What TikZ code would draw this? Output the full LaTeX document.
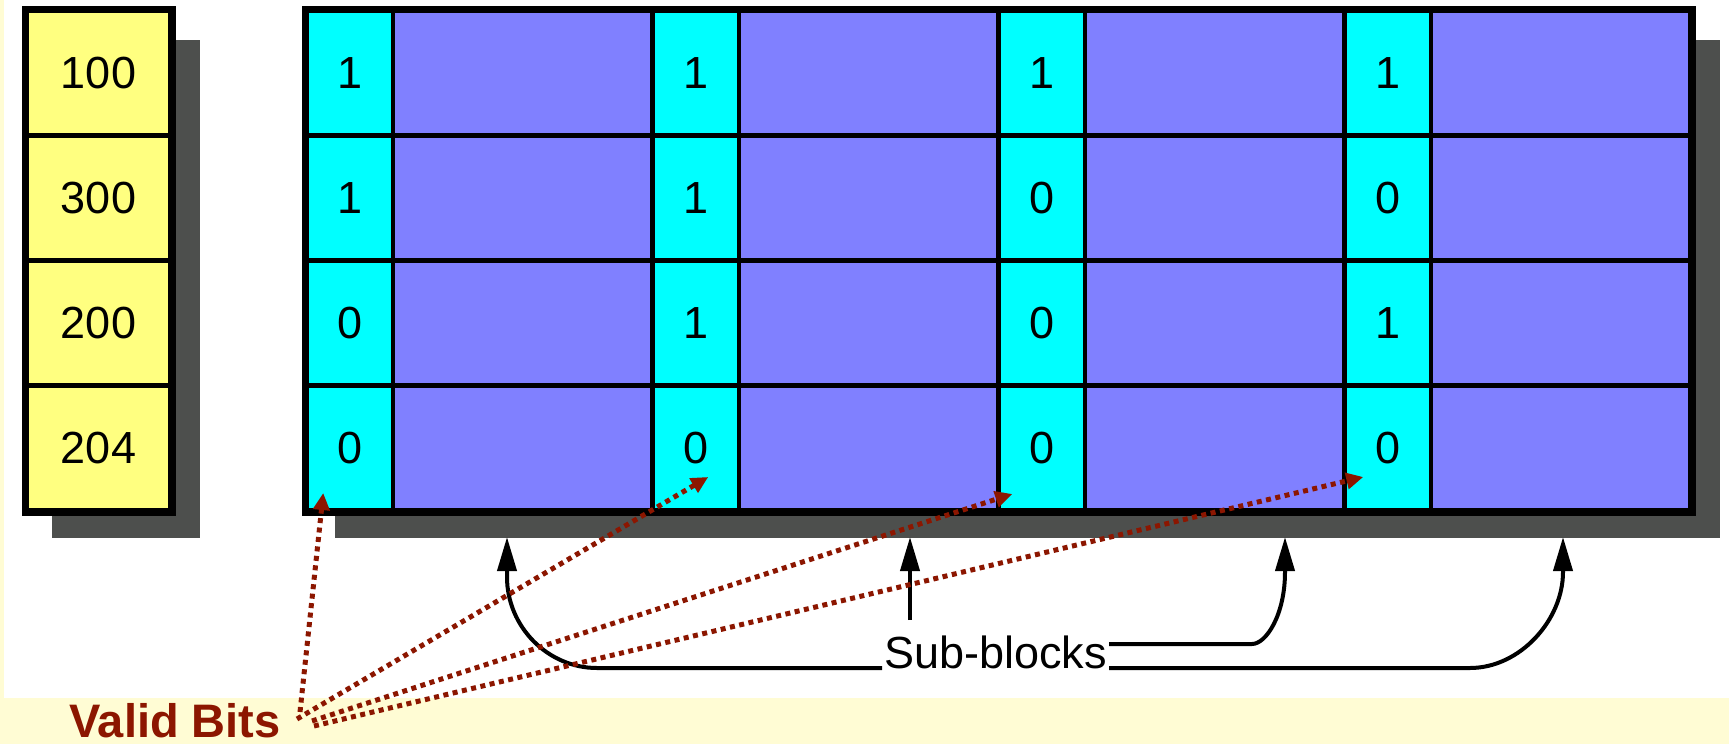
\documentclass[tikz,border=0pt]{standalone}
\usepackage{fontspec}
\setmainfont{Liberation Sans}
\usetikzlibrary{arrows.meta,calc}
\definecolor{cellyellow}{RGB}{255,255,128}
\definecolor{cellcyan}{RGB}{0,255,255}
\definecolor{cellblue}{RGB}{128,128,255}
\definecolor{shadowgray}{RGB}{77,79,77}
\definecolor{bgyellow}{RGB}{255,252,212}
\definecolor{darkred}{RGB}{140,22,0}
\begin{document}
\begin{tikzpicture}[x=1pt,y=-1pt,
  cell/.style={draw=black, line width=4.5pt, minimum height=125pt, inner sep=0pt, font=\fontsize{45}{50}\selectfont},
  addr/.style={cell, fill=cellyellow, minimum width=144pt},
  vbit/.style={cell, fill=cellcyan, minimum width=86.5pt},
  datacell/.style={cell, fill=cellblue, minimum width=259.5pt},
  shadowbox/.style={fill=shadowgray},
  frame/.style={draw=black, line width=5.5pt},
  sbarrow/.style={draw=black, line width=4pt, -{Triangle[length=34pt,width=19pt]}},
  vbarrow/.style={draw=darkred, line width=5pt, dash pattern=on 5pt off 4.5pt, -{Triangle[length=17pt,width=16pt]}},
]
% background
\fill[white] (0,0) rectangle (1729,744);
\fill[bgyellow] (0,698) rectangle (1729,744);
\fill[bgyellow] (0,0) rectangle (3.5,744);
\useasboundingbox (0,0) rectangle (1729,744);

% shadows
\fill[shadowbox] (52,40) rectangle (200,538);
\fill[shadowbox] (335,40) rectangle (1720,538);

% address column
\foreach \r/\a in {1/100,2/300,3/200,4/204}{
  \node[addr] (a\r) at (98.5,{10.5+125*(\r-1)+62.5}) {\a};
}
\draw[frame] (a1.north west) rectangle (a4.south east);

% cache grid
\foreach \r/\bits in {1/{1,1,1,1},2/{1,1,0,0},3/{0,1,0,1},4/{0,0,0,0}}{
  \foreach \b [count=\k] in \bits {
    \node[vbit] (v\r\k) at ({306.5+346*(\k-1)+43.25},{10.5+125*(\r-1)+62.5}) {\b};
    \node[datacell] (d\r\k) at ({306.5+346*(\k-1)+86.5+129.75},{10.5+125*(\r-1)+62.5}) {};
  }
}
\draw[frame] (v11.north west) rectangle (d44.south east);

% Sub-blocks label and arrows
\node[font=\fontsize{45}{50}\selectfont, inner xsep=2pt, inner ysep=0pt, anchor=base] (sb) at (995.5,668) {Sub-blocks};
\coordinate (t1) at (507,537);
\coordinate (t2) at (910,537);
\coordinate (t3) at (1285,537);
\coordinate (t4) at (1563,537);
\coordinate (s2) at (910,620);
\draw[sbarrow] (sb.base west) -- (597,668) .. controls (547.5,668) and (507,626.5) .. (507,577) -- (t1);
\draw[sbarrow] (s2) -- (t2);
\draw[sbarrow] ($(sb.base east)+(0,-24)$) -- (1252,644) .. controls (1266,644) and (1285,615) .. (1285,572) -- (t3);
\draw[sbarrow] (sb.base east) -- (1470,668) .. controls (1520,668) and (1563,620) .. (1563,572) -- (t4);

% Valid Bits label and arrows
\node[font=\bfseries\fontsize{47}{50}\selectfont, text=darkred, anchor=base west, inner sep=0pt] (vb) at (69,737) {Valid Bits};
\coordinate (p1) at (300,712);
\coordinate (p2) at (297,719);
\coordinate (p3) at (312,721);
\coordinate (p4) at (314,726);
\draw[vbarrow] (p1) -- ($(v41)+(-26.5,45)$);
\draw[vbarrow] (p2) -- ($(v42)+(12.5,29)$);
\draw[vbarrow] (p3) -- ($(v43)+(-29.5,46)$);
\draw[vbarrow] (p4) -- ($(v44)+(-24.5,29)$);
\end{tikzpicture}
\end{document}
